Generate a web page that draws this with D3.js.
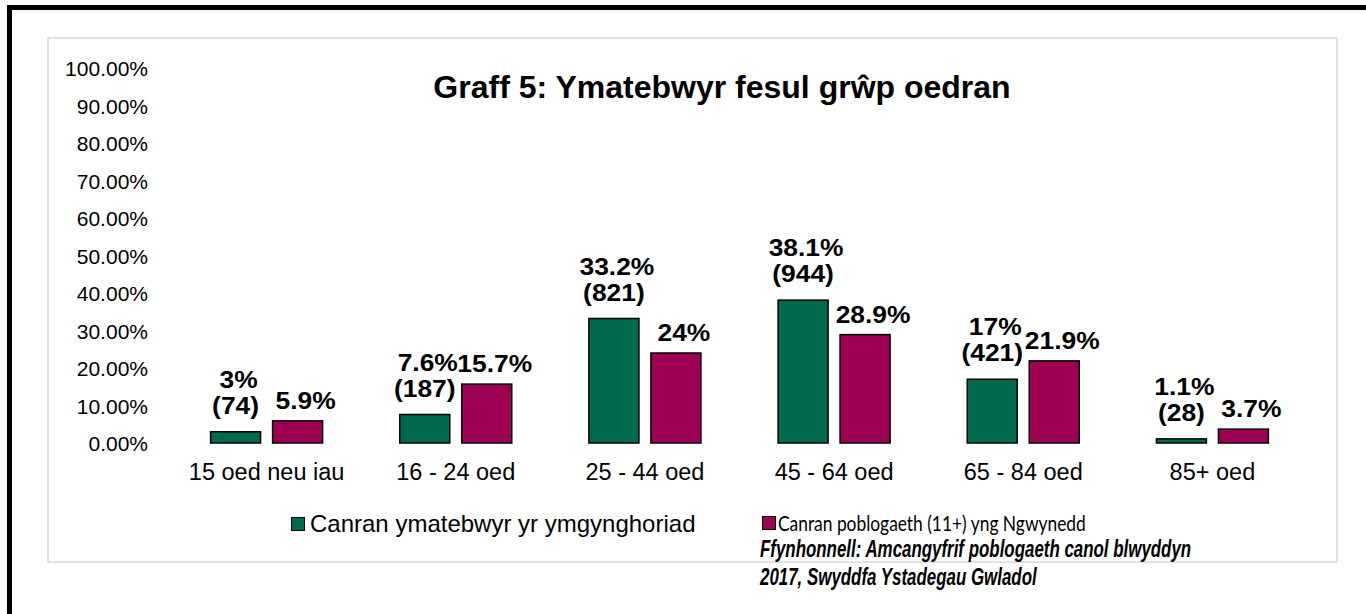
<!DOCTYPE html>
<html>
<head>
<meta charset="utf-8">
<title>Graff 5</title>
<style>
  body { margin: 0; background: #fff; }
  svg { display: block; }
  .grid line { stroke: #d9d9d9; stroke-width: 1.5; }
  .grid path { display: none; }
  .axis text { font-family: "Liberation Sans", Arial, sans-serif; fill: #000; }
  .axis path, .axis line { display: none; }
  .lbl { font-family: "Liberation Sans", Arial, sans-serif; font-weight: bold; font-size: 24px; fill: #000; text-anchor: middle; }
</style>
</head>
<body>
<svg width="1366" height="614"></svg>
<script src="https://d3js.org/d3.v7.min.js"></script>
<script>
// data
var categories = ["15 oed neu iau", "16 - 24 oed", "25 - 44 oed", "45 - 64 oed", "65 - 84 oed", "85+ oed"];
var responsePct = [3, 7.6, 33.2, 38.1, 17, 1.1];
var responseCount = [74, 187, 821, 944, 421, 28];
var populationPct = [5.9, 15.7, 24, 28.9, 21.9, 3.7];
var seriesNames = ["Canran ymatebwyr yr ymgynghoriad", "Canran poblogaeth (11+) yng Ngwynedd"];
var yTicks = [0, 10, 20, 30, 40, 50, 60, 70, 80, 90, 100];

var colors = ["#006a4e", "#9d0052"];

var svg = d3.select("svg");

// outer frame + chart area border
svg.append("rect").attr("x", 9.5).attr("y", 7.5).attr("width", 1400).attr("height", 640)
  .attr("fill", "none").attr("stroke", "#000").attr("stroke-width", 5);
svg.append("rect").attr("x", 48).attr("y", 38).attr("width", 1289).attr("height", 524)
  .attr("fill", "#fff").attr("stroke", "#d9d9d9").attr("stroke-width", 1.5);

var plot = {left: 172, right: 1307, top: 68, bottom: 443};

var x0 = d3.scaleBand().domain(categories).range([plot.left, plot.right]).padding(0);
var bw = x0.bandwidth();
var x1 = d3.scaleBand().domain([0, 1]).range([bw / 2 - 56, bw / 2 + 56]).paddingInner(12 / 62).paddingOuter(0);
var y = d3.scaleLinear().domain([0, 100]).range([plot.bottom, plot.top]);

// y grid + labels
var gy = svg.append("g").attr("class", "grid axis")
  .attr("transform", "translate(" + plot.left + ",0)")
  .call(d3.axisLeft(y).tickValues(yTicks).tickSize(-(plot.right - plot.left)).tickPadding(24)
    .tickFormat(function(d) { return d.toFixed(2) + "%"; }));
gy.selectAll("line").style("display", null);
gy.selectAll("text").attr("font-size", 21).attr("dy", "0.38em").attr("fill", "#111");

// x labels
var gx = svg.append("g").attr("class", "axis")
  .attr("transform", "translate(0," + plot.bottom + ")")
  .call(d3.axisBottom(x0).tickSize(0).tickPadding(20));
gx.selectAll("text").attr("font-size", 23.5);

// title
svg.append("text").attr("x", 722).attr("y", 98)
  .attr("text-anchor", "middle")
  .attr("font-family", "Liberation Sans, Arial, sans-serif")
  .attr("font-weight", "bold").attr("font-size", 32)
  .text("Graff 5: Ymatebwyr fesul grŵp oedran");

// bars
var groups = svg.append("g").selectAll("g").data(categories).enter().append("g")
  .attr("transform", function(d) { return "translate(" + x0(d) + ",0)"; });

var series = [responsePct, populationPct];
series.forEach(function(vals, s) {
  groups.append("rect")
    .attr("x", x1(s))
    .attr("width", x1.bandwidth())
    .attr("y", function(d, i) { return y(vals[i]); })
    .attr("height", function(d, i) { return y(0) - y(vals[i]); })
    .attr("fill", colors[s])
    .attr("stroke", "#000").attr("stroke-width", 1.5);
});

// data labels, slightly widened like the original export
function label(sel, cx, cy, txt) {
  sel.append("text").attr("class", "lbl")
    .attr("transform", function(d, i) { return "translate(" + cx + "," + cy(i) + ") scale(1.1,1)"; })
    .text(function(d, i) { return txt(i); });
}
var c0 = x1(0) + x1.bandwidth() / 2, c1 = x1(1) + x1.bandwidth() / 2;
label(groups, c0 + 3, function(i) { return y(responsePct[i]) - 44; }, function(i) { return responsePct[i] + "%"; });
label(groups, c0, function(i) { return y(responsePct[i]) - 18; }, function(i) { return "(" + responseCount[i] + ")"; });
label(groups, c1 + 8, function(i) { return y(populationPct[i]) - 12; }, function(i) { return populationPct[i] + "%"; });

// legend
var leg = svg.append("g");
leg.append("rect").attr("x", 291.5).attr("y", 517.5).attr("width", 13).attr("height", 13)
  .attr("fill", colors[0]).attr("stroke", "#000").attr("stroke-width", 1);
leg.append("text").attr("x", 310).attr("y", 532)
  .attr("font-family", "Liberation Sans, Arial, sans-serif").attr("font-size", 24)
  .text(seriesNames[0]);
leg.append("rect").attr("x", 762.5).attr("y", 516.5).attr("width", 13).attr("height", 13)
  .attr("fill", colors[1]).attr("stroke", "#000").attr("stroke-width", 1);
leg.append("text").attr("transform", "translate(778,531) scale(0.79,1)")
  .attr("font-family", "Lato, sans-serif").attr("font-size", 22)
  .text(seriesNames[1]);

// source note
var src = svg.append("g").attr("transform", "translate(760,557) scale(0.735,1)")
  .attr("font-family", "Liberation Sans, Arial, sans-serif")
  .attr("font-weight", "bold").attr("font-style", "italic").attr("font-size", 23);
src.append("text").attr("y", 0).text("Ffynhonnell: Amcangyfrif poblogaeth canol blwyddyn");
src.append("text").attr("y", 28).text("2017, Swyddfa Ystadegau Gwladol");
</script>
</body>
</html>
